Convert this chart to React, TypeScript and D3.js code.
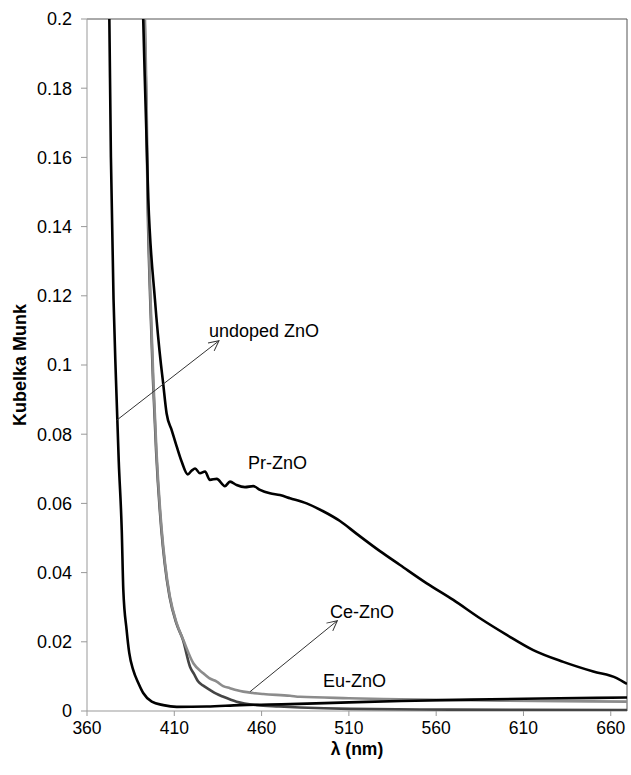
import React from "react";
import * as d3 from "d3";

// wavelengths (nm) and Kubelka-Munk values
const undopedNm = [370, 372.8, 373.7, 375.2, 376.6, 378.2, 379.9, 380.8, 382.7, 384.2, 386.5, 389.4, 392.2, 397.1, 403.7, 411.4, 428.6, 447.6, 476.3, 510, 540, 580, 620, 669.3];
const undopedKm = [0.3, 0.2, 0.16, 0.119, 0.0957, 0.072, 0.0523, 0.035, 0.0234, 0.0168, 0.0118, 0.0081, 0.0052, 0.0027, 0.0017, 0.0012, 0.0013, 0.0017, 0.002, 0.0025, 0.0029, 0.0033, 0.0036, 0.0039];

const prNm = [389, 392.2, 395.1, 398.9, 402.4, 403.4, 405.6, 408.5, 411.4, 414.2, 417.7, 420, 421.9, 424.7, 427.6, 430.4, 434.3, 439, 441.9, 445.7, 450.5, 455.2, 459.1, 464.8, 470.5, 476.3, 485.8, 495, 504.9, 514.5, 527.8, 539.3, 554.6, 569.8, 585.1, 600.4, 615.6, 632.8, 650, 663.4, 669.3];
const prKm = [0.26, 0.2, 0.148, 0.119, 0.1, 0.0957, 0.086, 0.0812, 0.0764, 0.0721, 0.0684, 0.0695, 0.0701, 0.0687, 0.0692, 0.0668, 0.0671, 0.065, 0.0663, 0.0653, 0.0647, 0.065, 0.0639, 0.0629, 0.0624, 0.0615, 0.06, 0.0578, 0.0549, 0.0512, 0.0462, 0.0422, 0.0369, 0.0321, 0.0268, 0.022, 0.0176, 0.0142, 0.0114, 0.0095, 0.0078];

const ceNm = [391, 393.2, 394.1, 394.9, 396.4, 398, 399.8, 402.8, 404.7, 407.5, 411.4, 415.2, 420.9, 426.6, 430, 434.3, 438, 441.9, 446, 449.5, 455, 461, 476.3, 482, 510, 539.3, 596.5, 669.3];
const ceKm = [0.26, 0.2, 0.177, 0.148, 0.119, 0.0957, 0.075, 0.0523, 0.0427, 0.033, 0.0253, 0.0205, 0.0138, 0.0109, 0.0095, 0.0085, 0.0072, 0.0066, 0.006, 0.0056, 0.0052, 0.0049, 0.0044, 0.0041, 0.0037, 0.0034, 0.003, 0.0027];

const euNm = [391, 393, 393.9, 394.7, 396.2, 397.8, 399.6, 402.6, 404.5, 407.3, 411.2, 415, 419, 421.5, 423.7, 427, 430.4, 434, 438.1, 445.7, 457.2, 470, 482, 510.6, 568, 669.3];
const euKm = [0.26, 0.2, 0.177, 0.148, 0.119, 0.0957, 0.075, 0.0523, 0.0427, 0.033, 0.0253, 0.0205, 0.0128, 0.0105, 0.0085, 0.0072, 0.0061, 0.005, 0.0041, 0.0027, 0.0017, 0.0013, 0.001, 0.0006, 0.0004, 0.0003];

const xTicks = [360, 410, 460, 510, 560, 610, 660];
const yTicks = [0, 0.02, 0.04, 0.06, 0.08, 0.1, 0.12, 0.14, 0.16, 0.18, 0.2];

// label text and anchor (nm, value)
const labels = [
  { text: "undoped ZnO", nm: 429.9, km: 0.1098 },
  { text: "Pr-ZnO", nm: 452.2, km: 0.0717 },
  { text: "Ce-ZnO", nm: 499.2, km: 0.0286 },
  { text: "Eu-ZnO", nm: 495.2, km: 0.0087 },
];
const arrows = [
  { from: [376.9, 0.084], to: [435.6, 0.107] },
  { from: [453.4, 0.0056], to: [503.4, 0.0261] },
];

const width = 631,
  height = 775;
const margin = { top: 19, right: 4, bottom: 64, left: 87 };
const font = "'Liberation Sans', Arial, sans-serif";

export default function App() {
  const x = d3
    .scaleLinear()
    .domain([360, 669.3])
    .range([margin.left, width - margin.right]);
  const y = d3
    .scaleLinear()
    .domain([0, 0.2])
    .range([height - margin.bottom, margin.top]);

  const line = d3
    .line<[number, number]>()
    .x((d) => x(d[0]))
    .y((d) => y(d[1]))
    .curve(d3.curveMonotoneX);

  const series = [
    { nm: euNm, km: euKm, color: "#454545" },
    { nm: ceNm, km: ceKm, color: "#8c8c8c" },
    { nm: undopedNm, km: undopedKm, color: "#000" },
    { nm: prNm, km: prKm, color: "#000" },
  ];

  const x0 = margin.left,
    x1 = width - margin.right,
    y0 = height - margin.bottom,
    y1 = margin.top;

  return (
    <svg
      width={width}
      height={height}
      style={{ position: "absolute", left: 0, top: 0, background: "#fff" }}
      fontFamily={font}
    >
      <defs>
        <clipPath id="plot">
          <rect x={x0} y={y1} width={x1 - x0} height={y0 - y1} />
        </clipPath>
        <marker
          id="arrow"
          viewBox="0 0 12 12"
          refX="11"
          refY="6"
          markerWidth="12"
          markerHeight="12"
          markerUnits="userSpaceOnUse"
          orient="auto"
        >
          <path d="M1,1 L11,6 L1,11" fill="none" stroke="#333" strokeWidth="1" />
        </marker>
      </defs>

      {/* plot frame */}
      <line x1={x0} x2={x1} y1={y1} y2={y1} stroke="#555" strokeWidth={1} />
      <line x1={x1} x2={x1} y1={y1} y2={y0} stroke="#555" strokeWidth={1} />

      {/* axes */}
      <line x1={x0} x2={x0} y1={y1} y2={y0} stroke="#999" strokeWidth={1} />
      <line x1={x0} x2={x1} y1={y0} y2={y0} stroke="#999" strokeWidth={1} />

      {yTicks.map((t) => (
        <g key={t}>
          <line x1={x0 - 6} x2={x0} y1={y(t)} y2={y(t)} stroke="#999" />
          <text
            x={x0 - 15}
            y={y(t)}
            dy="0.35em"
            textAnchor="end"
            fontSize={18}
            fill="#000"
          >
            {t === 0 ? "0" : d3.format("~g")(+t.toFixed(2))}
          </text>
        </g>
      ))}
      {xTicks.map((t) => (
        <g key={t}>
          <line x1={x(t)} x2={x(t)} y1={y0} y2={y0 + 5} stroke="#999" />
          <text x={x(t)} y={y0 + 23} textAnchor="middle" fontSize={17.5} fill="#000">
            {t}
          </text>
        </g>
      ))}

      <text
        x={(x0 + x1) / 2}
        y={755}
        textAnchor="middle"
        fontSize={17.5}
        fontWeight="bold"
      >
        λ (nm)
      </text>
      <text
        transform={`translate(26,${(y0 + y1) / 2}) rotate(-90)`}
        textAnchor="middle"
        fontSize={18}
        fontWeight="bold"
      >
        Kubelka Munk
      </text>

      <g clipPath="url(#plot)">
        {series.map((s, i) => (
          <path
            key={i}
            d={line(s.nm.map((n, j) => [n, s.km[j]] as [number, number])) || ""}
            fill="none"
            stroke={s.color}
            strokeWidth={2.6}
            strokeLinejoin="round"
          />
        ))}
      </g>

      {arrows.map((a, i) => (
        <line
          key={i}
          x1={x(a.from[0])}
          y1={y(a.from[1])}
          x2={x(a.to[0])}
          y2={y(a.to[1])}
          stroke="#333"
          strokeWidth={1}
          markerEnd="url(#arrow)"
        />
      ))}
      {labels.map((l) => (
        <text key={l.text} x={x(l.nm)} y={y(l.km)} dy="0.35em" fontSize={18} fill="#000">
          {l.text}
        </text>
      ))}
    </svg>
  );
}
